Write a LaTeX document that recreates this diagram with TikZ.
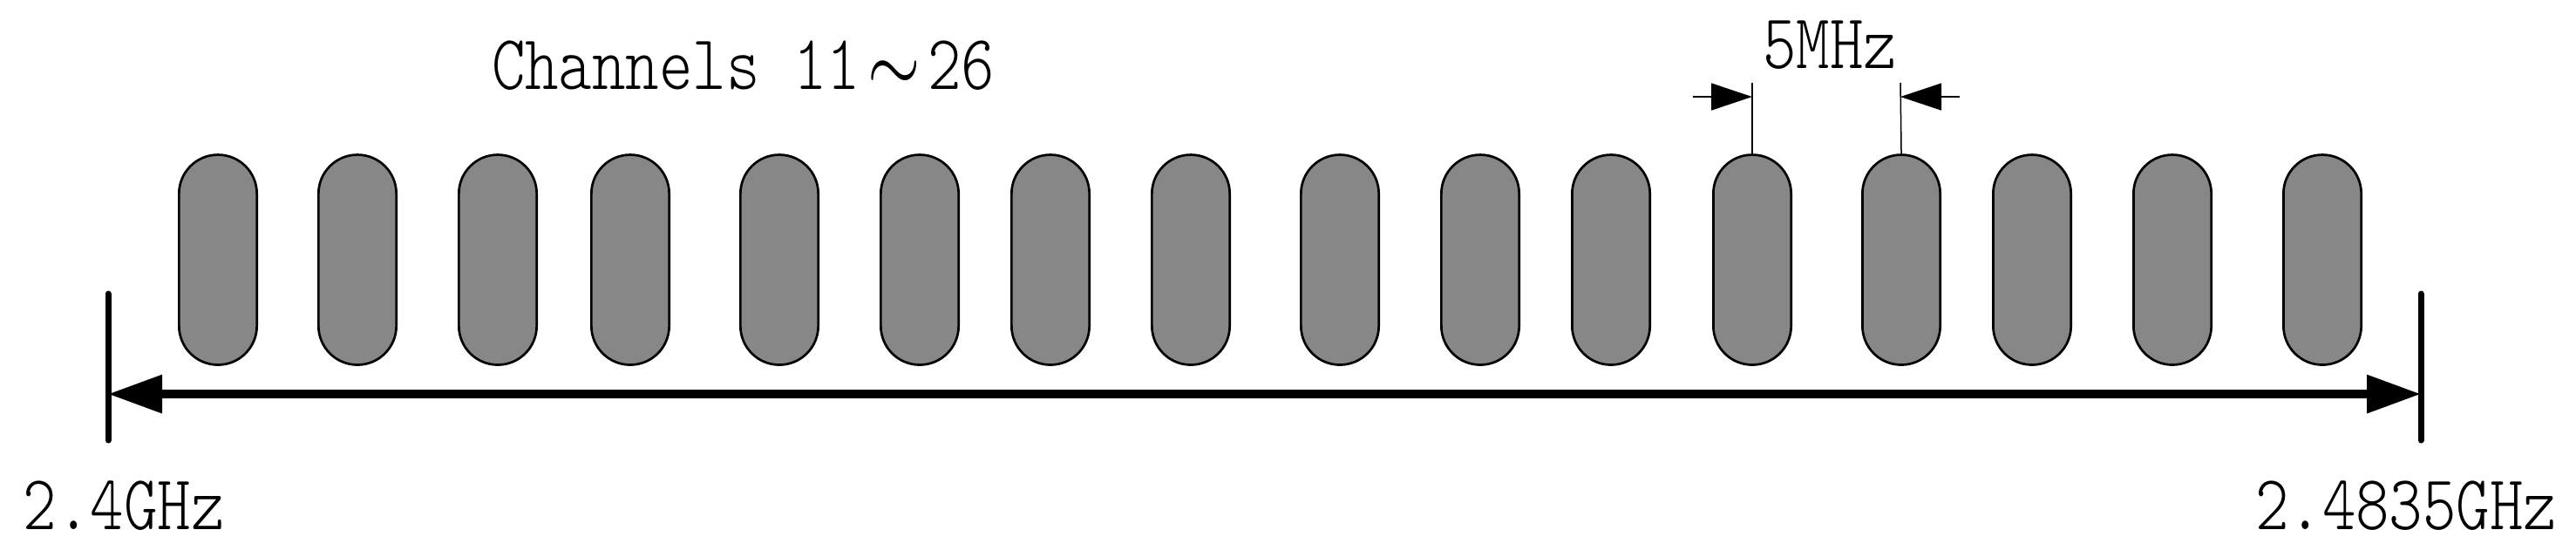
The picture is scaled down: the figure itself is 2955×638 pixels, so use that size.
\documentclass[tikz,border=0pt]{standalone}
\usepackage{fontspec}
\setmonofont{Latin Modern Mono Light}
\usepackage{tikz}
\usetikzlibrary{arrows.meta}

\definecolor{chgray}{RGB}{135,135,135}
\newcommand{\talltext}[1]{\scalebox{1}[1.22]{#1}}

\begin{document}
\begin{tikzpicture}[x=0.1pt, y=-0.1pt,
        chan/.style={draw, line width=0.27pt, fill=chgray, inner sep=0pt,
                     minimum width=8.93pt, minimum height=24.1pt, rounded corners=4.46pt},
        lbl/.style={inner sep=0pt, anchor=base west, font=\ttfamily\fontsize{7.33}{8}\selectfont},
        tick/.style={line width=0.7pt, line cap=round},
        band/.style={line width=0.95pt, {Triangle[length=6.2pt,width=4.2pt]}-{Triangle[length=6.2pt,width=4.2pt]}},
        dim/.style={line width=0.15pt, -{Triangle[length=4.7pt,width=3.1pt]}}]
    \useasboundingbox (0,0) rectangle (2955,638);
    % channels 11 to 26
    \foreach \cx [count=\i] in {250,410,571,723,894,1055,1205,1366,1537,1698,1848,2010,2181,2331,2492,2664}
        \node[chan] (c\i) at (\cx,298) {};
    % band edges
    \coordinate (lot) at (124,337);
    \coordinate (lob) at (124,505);
    \coordinate (hit) at (2777,337);
    \coordinate (hib) at (2777,505);
    \coordinate (lo) at (124,452);
    \coordinate (hi) at (2777,452);
    \draw[tick] (lot) -- (lob);
    \draw[tick] (hit) -- (hib);
    \draw[band] (lo) -- (hi);
    % channel spacing
    \coordinate (e1) at (2010,95);
    \coordinate (e2) at (2180,95);
    \coordinate (a1) at (1942,111);
    \coordinate (a1e) at (2010,111);
    \coordinate (a2) at (2248,111);
    \coordinate (a2e) at (2180,111);
    \draw[line width=0.15pt] (c12.north) -- (e1);
    \draw[line width=0.15pt] (c13.north) -- (e2);
    \draw[dim] (a1) -- (a1e);
    \draw[dim] (a2) -- (a2e);
    % labels
    \node[lbl] (title) at (562,102) {\talltext{Channels 11\makebox[1.05em]{$\sim$}26}};
    \node[lbl] (step) at (2020,78) {\talltext{5MHz}};
    \node[lbl] (flo) at (25,607) {\talltext{2.4GHz}};
    \node[lbl] (fhi) at (2585,607) {\talltext{2.4835GHz}};
\end{tikzpicture}
\end{document}
